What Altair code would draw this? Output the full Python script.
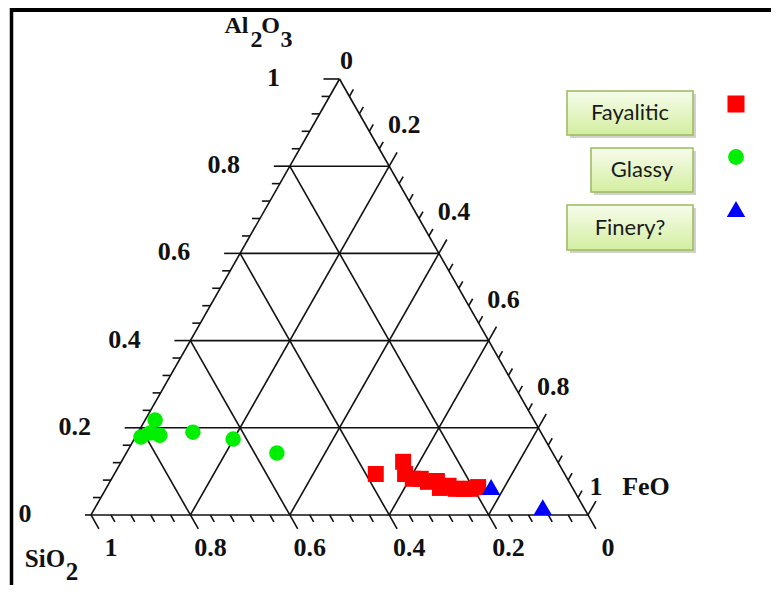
import altair as alt
import pandas as pd

# ---------------- data ----------------
TYPES = ["Fayalitic", "Glassy", "Finery?"]
COLORS = ["#ff0000", "#00ee00", "#0000ff"]
SHAPES = ["square", "circle", "triangle-up"]
SIZES = [256, 240, 340]

fay_sio2 = [0.380, 0.311, 0.321, 0.311, 0.295, 0.284, 0.265, 0.267, 0.247, 0.236, 0.220, 0.206, 0.189]
fay_al2o3 = [0.094, 0.122, 0.094, 0.083, 0.083, 0.076, 0.078, 0.062, 0.067, 0.060, 0.060, 0.060, 0.064]
fay_feo = [0.526, 0.567, 0.585, 0.606, 0.622, 0.640, 0.657, 0.671, 0.686, 0.704, 0.720, 0.734, 0.747]

gla_sio2 = [0.762, 0.810, 0.787, 0.770, 0.700, 0.627, 0.555]
gla_al2o3 = [0.218, 0.179, 0.188, 0.183, 0.190, 0.174, 0.142]
gla_feo = [0.020, 0.011, 0.025, 0.047, 0.110, 0.199, 0.303]

fin_sio2 = [0.163, 0.082]
fin_al2o3 = [0.064, 0.018]
fin_feo = [0.773, 0.900]

MAJOR = [0.0, 0.2, 0.4, 0.6, 0.8, 1.0]
MAJOR_LABELS = ["0", "0.2", "0.4", "0.6", "0.8", "1"]
TICKS = [i / 25 for i in range(26)]

# ---------------- layout ----------------
W, H = 763, 577
X_DOM = [-0.1670, 1.3682]
Y_DOM = [-0.1606, 1.1628]
PXX = W / (X_DOM[1] - X_DOM[0])
PXY = H / (Y_DOM[1] - Y_DOM[0])
DIAG = ((0.5 * PXX) ** 2 + PXY ** 2) ** 0.5

xs = alt.Scale(domain=X_DOM, nice=False, zero=False)
ys = alt.Scale(domain=Y_DOM, nice=False, zero=False)
FONT = "Liberation Serif"

pts = pd.DataFrame({
    "SiO2": fay_sio2 + gla_sio2 + fin_sio2,
    "Al2O3": fay_al2o3 + gla_al2o3 + fin_al2o3,
    "FeO": fay_feo + gla_feo + fin_feo,
    "Type": [TYPES[0]] * len(fay_sio2) + [TYPES[1]] * len(gla_sio2) + [TYPES[2]] * len(fin_sio2),
})

# segments (in ternary-projected data space)
segs = []
segs += [(0, 0, 1, 0), (0, 0, 0.5, 1), (1, 0, 0.5, 1)]
for v in [0.2, 0.4, 0.6, 0.8]:
    segs.append((v / 2, v, 1 - v / 2, v))               # Al2O3 = v
    segs.append((1 - v, 0, (1 - v) / 2, 1 - v))          # SiO2 = v
    segs.append((v, 0, (1 + v) / 2, 1 - v))              # FeO = v
for t in TICKS:
    major = abs(t * 5 - round(t * 5)) < 1e-9
    L = 16 if major else 8
    u = L / DIAG
    Ll = 6 if t == 0 else L
    segs.append((t / 2, t, t / 2 - Ll / PXX, t))                          # left (Al2O3)
    segs.append((1 - t, 0, 1 - t + 0.5 * u, -u))                          # bottom (SiO2)
    if t > 0:
        segs.append(((1 + t) / 2, 1 - t, (1 + t) / 2 + 0.5 * u, 1 - t + u))  # right (FeO)
seg_df = pd.DataFrame(segs, columns=["x", "y", "x2", "y2"])

rules = alt.Chart(seg_df).mark_rule(color="#111111", strokeWidth=1.6).encode(
    x=alt.X("x:Q", scale=xs, axis=None), y=alt.Y("y:Q", scale=ys, axis=None),
    x2="x2:Q", y2="y2:Q")


def text_layer(df, dx, dy, size=26, align="center", baseline="middle"):
    return alt.Chart(df).mark_text(font=FONT, fontWeight="bold", fontSize=size, color="#111111",
                                   dx=dx, dy=dy, align=align, baseline=baseline).encode(
        x=alt.X("x:Q", scale=xs, axis=None), y=alt.Y("y:Q", scale=ys, axis=None), text="t:N")


left_df = pd.DataFrame({"x": [v / 2 for v in MAJOR], "y": MAJOR, "t": MAJOR_LABELS})
bot_df = pd.DataFrame({"x": [1 - v for v in MAJOR], "y": [0] * 6, "t": MAJOR_LABELS})
right_df = pd.DataFrame({"x": [(1 + v) / 2 for v in MAJOR[1:5]], "y": [1 - v for v in MAJOR[1:5]],
                         "t": MAJOR_LABELS[1:5]})
top_df = pd.DataFrame({"x": [0.5], "y": [1.0], "t": ["0"]})
br_one = pd.DataFrame({"x": [1.0], "y": [0.0], "t": ["1"]})
feo_t = pd.DataFrame({"x": [1.0], "y": [0.0], "t": ["FeO"]})
apex = lambda s: pd.DataFrame({"x": [0.5], "y": [1.0], "t": [s]})
origin = lambda s: pd.DataFrame({"x": [0.0], "y": [0.0], "t": [s]})

labels = [
    text_layer(left_df, -66, -1),
    text_layer(bot_df, 20, 33),
    text_layer(right_df, 15, -41),
    text_layer(top_df, 7, -18),
    text_layer(br_one, 8, -28),
    text_layer(feo_t, 58, -28),
    text_layer(apex("Al"), -103, -46, 24, baseline="alphabetic"),
    text_layer(apex("2"), -83, -32, 24, baseline="alphabetic"),
    text_layer(apex("O"), -69, -46, 24, baseline="alphabetic"),
    text_layer(apex("3"), -53, -32, 24, baseline="alphabetic"),
    text_layer(origin("SiO"), -46, 52, 25, baseline="alphabetic"),
    text_layer(origin("2"), -19, 65, 25, baseline="alphabetic"),
]

color_enc = alt.Color("Type:N", scale=alt.Scale(domain=TYPES, range=COLORS), legend=None)
shape_enc = alt.Shape("Type:N", scale=alt.Scale(domain=TYPES, range=SHAPES), legend=None)

points = []
for name, sz in zip(TYPES, SIZES):
    points.append(alt.Chart(pts).transform_filter(
        alt.datum.Type == name
    ).transform_calculate(
        xf="datum.FeO + datum.Al2O3 / 2"
    ).mark_point(filled=True, opacity=1, strokeWidth=0, size=sz).encode(
        x=alt.X("xf:Q", scale=xs, axis=None),
        y=alt.Y("Al2O3:Q", scale=ys, axis=None),
        color=color_enc, shape=shape_enc,
    ))

# frame (top and left)
one = pd.DataFrame({"k": [0]})
frame = [
    alt.Chart(one).mark_rule(color="black", strokeWidth=4).encode(
        x=alt.value(2), x2=alt.value(W), y=alt.value(2)),
    alt.Chart(one).mark_rule(color="black", strokeWidth=3.5).encode(
        x=alt.value(3.5), y=alt.value(0), y2=alt.value(H)),
]

# legend boxes
grad = alt.Gradient(gradient="linear",
                    stops=[alt.GradientStop(color="#f7fcec", offset=0),
                           alt.GradientStop(color="#d3eea0", offset=1)],
                    x1=0, x2=0, y1=0, y2=1)
BOXES = [(559, 685, 83, 127), (583, 685, 140, 184), (559, 685, 197, 242)]
MARK_Y = [96, 149, 201]
LEG_SIZES = [290, 250, 340]
legend = []
for name, (x1, x2, y1, y2), my, sz in zip(TYPES, BOXES, MARK_Y, LEG_SIZES):
    d = pd.DataFrame({"Type": [name]})
    legend.append(alt.Chart(d).mark_rect(fill="#9a9a9a", opacity=0.45).encode(
        x=alt.value(x1 + 3), x2=alt.value(x2 + 3), y=alt.value(y1 + 3), y2=alt.value(y2 + 3)))
    legend.append(alt.Chart(d).mark_rect(fill=grad, stroke="#9bbb59", strokeWidth=1.5).encode(
        x=alt.value(x1), x2=alt.value(x2), y=alt.value(y1), y2=alt.value(y2)))
    legend.append(alt.Chart(d).mark_text(font="Lato", fontSize=22, color="#1a1a1a",
                                         align="center", baseline="middle").encode(
        x=alt.value((x1 + x2) / 2), y=alt.value((y1 + y2) / 2), text="Type:N"))
    legend.append(alt.Chart(d).mark_point(filled=True, opacity=1, strokeWidth=0, size=sz).encode(
        x=alt.value(728), y=alt.value(my), color=color_enc, shape=shape_enc))

chart = alt.layer(*frame, rules, *labels, *points, *legend).properties(
    width=W, height=H, padding=0, autosize="none", background="white"
).configure_view(stroke=None)

chart.save("out.html", embed_options={"renderer": "svg", "actions": False})
